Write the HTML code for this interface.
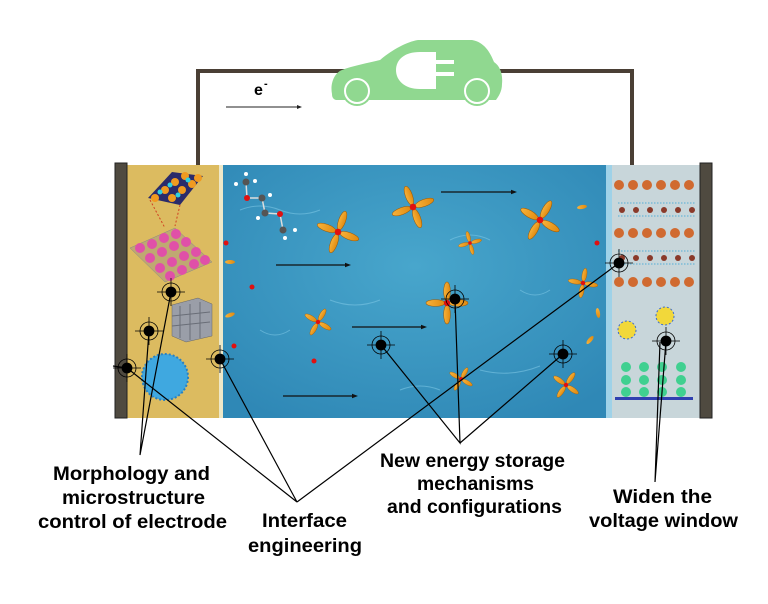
<!DOCTYPE html>
<html><head><meta charset="utf-8"><style>html,body{margin:0;padding:0;background:#fff}svg{display:block}</style></head>
<body>
<svg width="768" height="604" viewBox="0 0 768 604" xmlns="http://www.w3.org/2000/svg">
<defs>
<radialGradient id="sea" cx="50%" cy="40%" r="70%"><stop offset="0" stop-color="#48a6cc"/><stop offset="1" stop-color="#2f88b6"/></radialGradient>
<linearGradient id="bl" x1="0" x2="1"><stop offset="0" stop-color="#f7b23a"/><stop offset="1" stop-color="#e08a10"/></linearGradient>
<g id="prop">
<ellipse cx="0" cy="-11" rx="3.2" ry="9" fill="url(#bl)" stroke="#9a5a08" stroke-width="0.5"/>
<ellipse cx="0" cy="11" rx="3.2" ry="9" fill="url(#bl)" stroke="#9a5a08" stroke-width="0.5"/>
<ellipse cx="-11" cy="0" rx="9" ry="3.2" fill="url(#bl)" stroke="#9a5a08" stroke-width="0.5"/>
<ellipse cx="11" cy="0" rx="9" ry="3.2" fill="url(#bl)" stroke="#9a5a08" stroke-width="0.5"/>
<circle r="3" fill="#e01010"/>
</g>
<g id="tgt" fill="none" stroke="#000" stroke-width="0.8">
<circle r="9"/><line x1="-14" y1="0" x2="14" y2="0"/><line x1="0" y1="-14" x2="0" y2="14"/><circle r="5" fill="#000"/>
</g>
<g id="blob"><ellipse rx="5" ry="2" fill="url(#bl)"/></g>
</defs>

<path d="M198 166 V71 H632 V166" fill="none" stroke="#4a3f35" stroke-width="4"/>
<path d="M332 94 C330 84 334 73 342 70 C352 66 368 63 380 60 C392 50 406 42 418 40 L472 40 C484 42 490 52 494 62 C500 66 503 74 502 84 C502 92 498 97 496 100 L336 100 C333 99 332 97 332 94 Z" fill="#90d890"/>
<circle cx="357" cy="91" r="15" fill="#90d890"/><circle cx="477" cy="91" r="15" fill="#90d890"/>
<circle cx="357" cy="91" r="12" fill="none" stroke="#fff" stroke-width="2"/><circle cx="477" cy="91" r="12" fill="none" stroke="#fff" stroke-width="2"/>
<path d="M420 52 H436 V89 H420 C404 89 396 80 396 70 C396 60 404 52 420 52 Z" fill="#fff"/>
<rect x="436" y="60" width="18" height="4" fill="#fff"/><rect x="436" y="72" width="18" height="4" fill="#fff"/>
<text x="254" y="95" font-family="Liberation Sans, sans-serif" font-weight="bold" font-size="16">e</text>
<text x="264" y="87" font-family="Liberation Sans, sans-serif" font-weight="bold" font-size="11">-</text>
<line x1="226" y1="107" x2="298" y2="107" stroke="#222" stroke-width="1"/><path d="M302 107 l-5 -2 v4z" fill="#222"/>

<rect x="127" y="165" width="93" height="253" fill="#dcbb60"/>
<rect x="219" y="165" width="4" height="253" fill="#eee8c8"/>
<rect x="223" y="165" width="383" height="253" fill="url(#sea)"/>
<g stroke="#7cc6e4" stroke-width="1" fill="none" opacity="0.6">
<path d="M240 210 q20 -8 40 0 t40 0"/><path d="M330 300 q25 10 50 0"/><path d="M450 240 q20 -10 40 0"/><path d="M480 370 q30 8 60 -4"/><path d="M260 330 q15 10 30 0"/><path d="M400 390 q20 -8 40 0"/><path d="M520 290 q15 10 30 0"/>
</g>
<rect x="606" y="165" width="94" height="253" fill="#c8d6da"/>
<rect x="606" y="165" width="6" height="253" fill="#9fd2e8"/>
<rect x="115" y="163" width="12" height="255" fill="#4f4a40" stroke="#222" stroke-width="1"/>
<rect x="700" y="163" width="12" height="255" fill="#4f4a40" stroke="#222" stroke-width="1"/>

<path d="M148 198 L172 172 L203 176 L180 205 Z" fill="#2b2b6a"/>
<g fill="#f09a20"><circle cx="155" cy="198" r="4"/><circle cx="165" cy="190" r="4"/><circle cx="175" cy="182" r="4"/><circle cx="185" cy="176" r="4"/><circle cx="172" cy="198" r="4"/><circle cx="182" cy="190" r="4"/><circle cx="192" cy="184" r="4"/><circle cx="198" cy="178" r="4"/></g>
<g fill="#30d0e0"><circle cx="160" cy="192" r="2.5"/><circle cx="170" cy="185" r="2.5"/><circle cx="178" cy="195" r="2.5"/><circle cx="188" cy="180" r="2.5"/></g>
<path d="M150 200 L165 228 M180 205 L175 226" stroke="#d04020" stroke-dasharray="2 2"/>
<path d="M130 248 L175 228 L212 262 L165 282 Z" fill="#bfa872" stroke="#888" stroke-width="0.5"/>
<g fill="#e050a8"><circle cx="140" cy="248" r="5"/><circle cx="152" cy="244" r="5"/><circle cx="164" cy="238" r="5"/><circle cx="176" cy="234" r="5"/><circle cx="150" cy="258" r="5"/><circle cx="162" cy="252" r="5"/><circle cx="174" cy="246" r="5"/><circle cx="186" cy="242" r="5"/><circle cx="160" cy="268" r="5"/><circle cx="172" cy="262" r="5"/><circle cx="184" cy="256" r="5"/><circle cx="196" cy="252" r="5"/><circle cx="170" cy="276" r="5"/><circle cx="182" cy="270" r="5"/><circle cx="194" cy="264" r="5"/><circle cx="205" cy="260" r="5"/></g>
<path d="M172 305 L198 298 L212 304 L212 336 L186 342 L172 336 Z" fill="#9a9ea8" stroke="#666" stroke-width="0.5"/>
<g stroke="#6a6e78" stroke-width="1"><line x1="180" y1="306" x2="180" y2="338"/><line x1="190" y1="304" x2="190" y2="340"/><line x1="200" y1="302" x2="200" y2="338"/><line x1="172" y1="316" x2="210" y2="312"/><line x1="172" y1="326" x2="210" y2="322"/></g>
<circle cx="165" cy="377" r="23" fill="#3fa8e0"/><circle cx="165" cy="377" r="23" fill="none" stroke="#2a80c0" stroke-width="2" stroke-dasharray="2 2"/>

<g stroke="#ddd" stroke-width="1.5"><line x1="246" y1="182" x2="247" y2="198"/><line x1="247" y1="198" x2="262" y2="198"/><line x1="262" y1="198" x2="265" y2="213"/><line x1="265" y1="213" x2="280" y2="214"/><line x1="280" y1="214" x2="283" y2="230"/></g>
<circle cx="246" cy="182" r="3.5" fill="#555"/><circle cx="262" cy="198" r="3.5" fill="#555"/><circle cx="265" cy="213" r="3.5" fill="#555"/><circle cx="283" cy="230" r="3.5" fill="#555"/>
<circle cx="247" cy="198" r="3" fill="#e01010"/><circle cx="280" cy="214" r="3" fill="#e01010"/>
<g fill="#fff"><circle cx="236" cy="184" r="2"/><circle cx="255" cy="181" r="2"/><circle cx="246" cy="174" r="2"/><circle cx="270" cy="195" r="2"/><circle cx="258" cy="218" r="2"/><circle cx="295" cy="230" r="2"/><circle cx="285" cy="238" r="2"/></g>

<g fill="#e01010"><circle cx="226" cy="243" r="2.5"/><circle cx="252" cy="287" r="2.5"/><circle cx="234" cy="346" r="2.5"/><circle cx="314" cy="361" r="2.5"/><circle cx="597" cy="243" r="2.5"/></g>

<use href="#prop" transform="translate(338,232) rotate(20) scale(1.1)"/>
<use href="#prop" transform="translate(413,207) rotate(-20) scale(1.1)"/>
<use href="#prop" transform="translate(540,220) rotate(30) scale(1.1)"/>
<use href="#prop" transform="translate(470,243) rotate(-15) scale(0.6)"/>
<use href="#prop" transform="translate(318,322) rotate(30) scale(0.75)"/>
<use href="#prop" transform="translate(447,303) scale(1.05)"/>
<use href="#prop" transform="translate(583,283) rotate(10) scale(0.75)"/>
<use href="#prop" transform="translate(461,379) rotate(30) scale(0.65)"/>
<use href="#prop" transform="translate(566,385) rotate(35) scale(0.75)"/>
<use href="#blob" transform="translate(230,262)"/><use href="#blob" transform="translate(230,315) rotate(-20)"/><use href="#blob" transform="translate(582,207) rotate(-10)"/><use href="#blob" transform="translate(598,313) rotate(80)"/><use href="#blob" transform="translate(590,340) rotate(-50)"/>

<g stroke="#111" stroke-width="1.2"><line x1="276" y1="265" x2="346" y2="265"/><line x1="352" y1="327" x2="422" y2="327"/><line x1="283" y1="396" x2="353" y2="396"/><line x1="441" y1="192" x2="512" y2="192"/></g>
<g fill="#111"><path d="M351 265 l-6 -2.2 v4.4z"/><path d="M427 327 l-6 -2.2 v4.4z"/><path d="M358 396 l-6 -2.2 v4.4z"/><path d="M517 192 l-6 -2.2 v4.4z"/></g>

<g fill="#d06a30">
<circle cx="619" cy="185" r="5"/><circle cx="633" cy="185" r="5"/><circle cx="647" cy="185" r="5"/><circle cx="661" cy="185" r="5"/><circle cx="675" cy="185" r="5"/><circle cx="689" cy="185" r="5"/>
<circle cx="619" cy="233" r="5"/><circle cx="633" cy="233" r="5"/><circle cx="647" cy="233" r="5"/><circle cx="661" cy="233" r="5"/><circle cx="675" cy="233" r="5"/><circle cx="689" cy="233" r="5"/>
<circle cx="619" cy="282" r="5"/><circle cx="633" cy="282" r="5"/><circle cx="647" cy="282" r="5"/><circle cx="661" cy="282" r="5"/><circle cx="675" cy="282" r="5"/><circle cx="689" cy="282" r="5"/></g>
<g fill="#8a3a2a"><circle cx="622" cy="210" r="3"/><circle cx="636" cy="210" r="3"/><circle cx="650" cy="210" r="3"/><circle cx="664" cy="210" r="3"/><circle cx="678" cy="210" r="3"/><circle cx="692" cy="210" r="3"/>
<circle cx="622" cy="258" r="3"/><circle cx="636" cy="258" r="3"/><circle cx="650" cy="258" r="3"/><circle cx="664" cy="258" r="3"/><circle cx="678" cy="258" r="3"/><circle cx="692" cy="258" r="3"/></g>
<g stroke="#7abcd8" stroke-width="1.5" stroke-dasharray="1.5 1.5"><line x1="618" y1="203" x2="695" y2="203"/><line x1="618" y1="216" x2="695" y2="216"/><line x1="618" y1="251" x2="695" y2="251"/><line x1="618" y1="264" x2="695" y2="264"/></g>
<circle cx="627" cy="330" r="9" fill="#f2d83a" stroke="#3a6ad0" stroke-dasharray="2 2"/>
<circle cx="665" cy="316" r="9" fill="#f2d83a" stroke="#3a6ad0" stroke-dasharray="2 2"/>
<g fill="#40d090"><circle cx="626" cy="367" r="5"/><circle cx="644" cy="367" r="5"/><circle cx="662" cy="367" r="5"/><circle cx="681" cy="367" r="5"/><circle cx="626" cy="380" r="5"/><circle cx="644" cy="380" r="5"/><circle cx="662" cy="380" r="5"/><circle cx="681" cy="380" r="5"/><circle cx="626" cy="392" r="5"/><circle cx="644" cy="392" r="5"/><circle cx="662" cy="392" r="5"/><circle cx="681" cy="392" r="5"/></g>
<rect x="615" y="397" width="78" height="3" fill="#3040b0"/>

<g stroke="#000" stroke-width="1.2" fill="none">
<path d="M171 292 L140 455 L149 331"/>
<path d="M127 368 L297 502 L220 359 M297 502 L619 263"/>
<path d="M381 345 L460 443 L455 299 M460 443 L563 354"/>
<path d="M666 341 L655 482 L660 342"/>
<line x1="113" y1="366" x2="127" y2="368"/>
</g>
<use href="#tgt" x="171" y="292"/><use href="#tgt" x="149" y="331"/><use href="#tgt" x="127" y="368"/><use href="#tgt" x="220" y="359"/>
<use href="#tgt" x="381" y="345"/><use href="#tgt" x="455" y="299"/><use href="#tgt" x="563" y="354"/><use href="#tgt" x="619" y="263"/><use href="#tgt" x="666" y="341"/>

<g font-family="Liberation Sans, sans-serif" font-weight="bold" font-size="19" fill="#000">
<text x="53" y="480" textLength="157" lengthAdjust="spacingAndGlyphs">Morphology and</text>
<text x="62" y="504" textLength="143" lengthAdjust="spacingAndGlyphs">microstructure</text>
<text x="38" y="528" textLength="189" lengthAdjust="spacingAndGlyphs">control of electrode</text>
<text x="262" y="527" textLength="85" lengthAdjust="spacingAndGlyphs">Interface</text>
<text x="248" y="552" textLength="114" lengthAdjust="spacingAndGlyphs">engineering</text>
<text x="380" y="467" textLength="185" lengthAdjust="spacingAndGlyphs">New energy storage</text>
<text x="417" y="490" textLength="117" lengthAdjust="spacingAndGlyphs">mechanisms</text>
<text x="387" y="513" textLength="175" lengthAdjust="spacingAndGlyphs">and configurations</text>
<text x="613" y="503" textLength="99" lengthAdjust="spacingAndGlyphs">Widen the</text>
<text x="589" y="527" textLength="149" lengthAdjust="spacingAndGlyphs">voltage window</text>
</g>
</svg>
</body></html>
